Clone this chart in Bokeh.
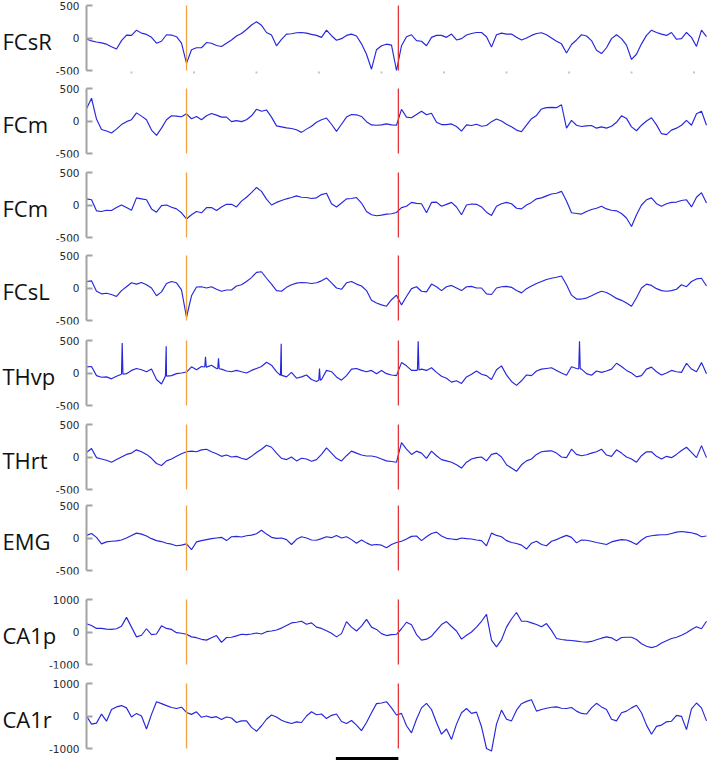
import numpy as np
from bokeh.plotting import figure
from bokeh.layouts import column
from bokeh.models import Range1d, FixedTicker
from bokeh.core.properties import value
from bokeh.embed import file_html
from bokeh.resources import INLINE

# ---------------- data ----------------
t_start = 0.28          # s, first sample
dt = 0.08
t_end = 10.232          # s, last visible time

channels = ["FCsR", "FCm", "FCm", "FCsL", "THvp", "THrt", "EMG", "CA1p", "CA1r"]
limits = [500, 500, 500, 500, 500, 500, 500, 1000, 1000]

fcsr = [-15, -45, -62, -75, -95, -135, -170, -40, 45, 40,
        120, 75, 55, 10, -80, -50, 50, 45, 20, -80,
        -390, -180, -150, -150, -70, -80, -115, -130, -80, -30,
        30, 70, 130, 200, 250, 195, 85, 45, -120, -20,
        60, 65, 80, 85, 75, 55, 40, 10, 120, 35,
        -35, -10, 40, 60, 30, -90, -250, -480, -180, -120,
        -95, -110, -500, -120, 20, 50, -40, -50, -120, 10,
        40, 40, 10, 60, -30, -10, 45, 70, 85, 85,
        20, -140, 50, 75, 60, 60, 10, -30, 0, 40,
        70, 80, 50, 0, -50, -90, -230, -100, -30, 50,
        30, -40, -190, -240, -150, -10, 50, -10, -110, -330,
        -250, -90, 40, 120, 85, 60, 40, 85, -20, -10,
        85, 10, -130, 120, 20]

fcm_a = [190, 350, 30, -130, -155, -185, -125, -55, -10, 20,
         125, 75, 20, -140, -220, -110, 20, 80, 75, 65,
         110, 35, 70, 20, 80, 115, 90, 60, 60, -10,
         5, -10, 20, 80, 180, 150, 170, 60, -75, -90,
         -105, -115, -135, -175, -125, -80, -20, 20, 45, -50,
         -160, -50, 60, 100, 95, 70, -10, -60, -65, -60,
         -45, -60, -65, 180, 60, 50, 100, 150, 95, 120,
         -20, -55, -55, -45, -85, -155, -60, -70, -50, -80,
         -70, -10, 30, 0, -50, -90, -140, -165, -65, 35,
         85, 185, 205, 210, 205, 250, -110, 10, -65, -85,
         -75, -70, -110, -90, -110, -80, -20, 80, 40, -90,
         -150, -65, 0, 50, -60, -195, -210, -140, -110, -65,
         10, -65, 110, 150, -65]

fcm_b = [95, 80, -90, -100, -80, -85, -40, 0, -40, -80,
         110, 95, 80, -60, -110, -10, 0, -35, -60, -120,
         -215, -150, -100, -120, -40, -40, -85, -30, 10, 10,
         -30, 60, 120, 190, 270, 210, 90, 0, 40, 70,
         95, 115, 140, 120, 115, 100, 110, 160, 180, 20,
         -30, 30, 95, 100, 115, 30, -100, -150, -165, -155,
         -140, -135, -115, -40, -20, 40, 25, 20, -120, 40,
         45, -20, 10, 40, -30, -150, 0, 15, 10, -30,
         -110, -160, -20, 20, 40, 20, -50, -60, 0, 40,
         95, 110, 140, 170, 180, 210, 60, -120, -130, -140,
         -100, -70, -50, -20, -60, -80, -90, -130, -200, -330,
         -150, 0, 80, 110, 20, -20, 20, 40, 45, 70,
         80, -30, 120, 190, 30]

fcsl = [100, 110, -50, -90, -80, -100, -130, -40, 20, 80,
        60, 85, 50, 0, -120, -60, 70, 100, 80, -30,
        -450, -120, 15, 20, 0, 20, -20, -50, -30, -30,
        30, 50, 100, 160, 240, 250, 150, 60, -40, -50,
        10, 50, 75, 85, 80, 70, 80, 110, 155, 80,
        0, -20, 80, 100, 60, 30, -40, -190, -230, -260,
        -280, -180, -110, -260, -130, -10, 20, -50, -60, 60,
        20, -40, 20, 40, 0, -40, 20, 25, 0, 0,
        -90, -100, 0, 20, 25, 10, -40, -75, -10, 30,
        70, 100, 130, 150, 165, 185, 50, -110, -170, -170,
        -155, -120, -80, -50, -70, -110, -160, -190, -230, -280,
        -150, 0, 60, 40, -10, -40, -50, -40, -20, 50,
        20, 100, 140, 150, 30]

thvp = [95, 100, -40, -65, -60, -90, -50, -20, -10, 40,
        70, 50, 20, 60, -100, -170, -40, -40, -10, 0,
        15, 95, 50, 100, 90, 120, 70, 60, 30, 20,
        40, 20, 0, 40, 70, 100, 165, 120, 20, -40,
        -60, 10, -80, -60, -30, -100, -130, -100, 40, 20,
        -60, -110, -40, 60, 70, 40, 20, 40, -10, 40,
        -10, -30, -40, 160, 110, 40, 40, 60, 40, 80,
        10, -50, -80, -140, -120, -160, -60, -20, 30, -20,
        -40, -100, 50, 110, -30, -130, -190, -120, -30, -40,
        30, 60, 70, 80, 40, 0, -35, 95, 70, 60,
        -10, -35, 30, 10, 30, 60, 150, 100, 40, 0,
        -60, -40, 60, 90, 20, -30, 0, 40, 20, 10,
        150, 60, 20, 160, -10]
thvp_spike_t = [0.851, 1.555, 2.184, 2.392, 3.395, 4.008, 5.587, 8.168]
thvp_spike_v = [460, 410, 250, 225, 450, 70, 490, 490]

thrt = [70, 130, -10, -30, -50, -80, -40, 0, 40, 60,
        110, 80, 40, -20, -100, -130, -60, -30, 10, 50,
        80, 90, 80, 110, 120, 80, 50, 10, 30, 0,
        10, -20, -40, 10, 70, 120, 180, 150, 60, -20,
        -40, 0, -60, -20, -30, -65, -40, 40, 140, 60,
        -20, -60, 20, 90, 60, 30, 15, 15, 0, -30,
        -60, -70, -80, 220, 120, 40, 90, 60, -20, 90,
        20, -40, -60, -80, -120, -170, -80, -30, -10, 0,
        -60, 40, 60, 0, -120, -170, -220, -120, -60, -30,
        40, 80, 90, 95, 60, 0, -10, 120, 40, 20,
        35, 60, 80, 120, 30, 10, 110, 60, 0, -30,
        -80, 20, 80, 80, 10, -30, 10, -10, 40, 100,
        150, 70, -10, 175, -10]

emg = [40, 70, 10, -90, -60, -50, -45, -30, 0, 40,
       75, 60, 30, -10, -40, -55, -80, -95, -120, -110,
       -90, -180, -60, -40, -25, -10, 0, 10, -40, 20,
       25, 15, 35, 45, 65, 120, 60, 10, -5, 0,
       -25, -100, -20, 20, 0, -30, -35, -10, 20, 5,
       40, 0, 20, -25, -80, -30, -75, -110, -100, -110,
       -150, -100, -70, -50, -15, 25, 30, -40, 20, 70,
       90, 30, -5, -15, -25, 0, -10, -15, -30, -40,
       -120, 75, 40, 20, -40, -70, -85, -110, -170, -80,
       -50, -100, -120, -50, -25, 10, 40, 10, -75, -30,
       -35, -50, -70, -85, -100, -60, -40, -25, -30, -60,
       -100, -30, 20, 35, 45, 50, 50, 70, 90, 100,
       90, 80, 60, 20, 30]

ca1p = [255, 200, 110, 110, 90, 80, 100, 180, 450, 150,
        -150, -100, 100, -80, -60, 190, 110, 80, -20, -40,
        -70, -150, -175, -225, -250, -180, -110, -320, -170, -160,
        -120, -70, -80, -60, -30, -60, 10, 30, 60, 120,
        200, 280, 300, 330, 240, 280, 150, 110, 40, -40,
        -150, -50, 320, 150, 30, 180, 390, 150, 80, -50,
        -110, -80, -70, 100, 300, 220, -80, -250, -220, -130,
        50, 230, 320, 170, 30, -220, -100, 0, 150, 330,
        540, -250, -460, -240, 150, 400, 600, 330, 330, 280,
        230, 160, 260, 50, -200, -230, -250, -260, -280, -300,
        -310, -290, -240, -190, -150, -180, -270, -170, -160, -160,
        -230, -360, -440, -480, -440, -340, -270, -200, -160, -100,
        -20, 80, 160, 100, 330]

ca1r = [0, -250, -220, 60, -160, 200, 280, 320, 250, -30,
        80, 0, -400, 50, 440, 380, 320, 260, 230, 270,
        110, 50, 130, -40, 0, -50, -20, -110, -30, -60,
        -200, -150, -150, -350, -470, -300, -100, 30, -30, -130,
        -190, -230, -180, -200, 0, 130, 40, 60, -80, 20,
        60, -170, -230, -140, -280, -450, -200, 100, 380, 400,
        440, 250, 30, 80, -300, -520, -100, 250, 390, 200,
        -200, -560, -400, -720, -250, 100, 230, 80, 120, -330,
        -1000, -1080, -250, 180, -100, -150, 180, 380, 450, 500,
        150, 200, 240, 270, 280, 240, 230, 260, 150, 80,
        60, 250, 390, 280, 200, -100, -150, 100, 150, 250,
        330, 100, -280, -560, -320, -280, -180, -160, 20, -10,
        -420, 220, 400, 250, -150]

series = [fcsr, fcm_a, fcm_b, fcsl, thvp, thrt, emg, ca1p, ca1r]

event_t = [1.88, 5.27]                 # stimulus / event markers (s)
event_colors = ["#f0a440", "#e2383c"]
scale_bar_t = [4.27, 5.27]             # 1 s scale bar
second_ticks = [1, 2, 3, 4, 5, 6, 7, 8, 9, 10]

# ---------------- layout ----------------
W = 708
PX_PER_S = 62.5
AXIS_X = 86                       # px from the left edge to the y axes
heights = [84, 84, 83, 85, 84, 81, 94, 84, 82]
tops = [1, 0, 0, 0, 0, 0, 0, 0, 0]
CORE = 65      # px between the +limit and -limit ticks
PAD = 4        # px of room beyond the ticks
LABEL_DROP = 3 # px the channel names sit below the zero line
TRACE = "#2626dc"
AXIS = "#a3a3a3"

x_left = t_start - AXIS_X / PX_PER_S
x_range = Range1d(x_left, t_end)
times = t_start + dt * np.arange(len(fcsr))

figs = []
n = len(channels)
for i in range(n):
    lim = limits[i]
    upp = 2 * lim / CORE
    last = i == n - 1
    extra = 13 if last else PAD
    y_top = lim + PAD * upp
    y_bot = -lim - extra * upp
    frame_h = PAD + CORE + extra
    b_top = tops[i]
    b_bot = heights[i] - b_top - frame_h

    p = figure(width=W, height=heights[i], x_range=x_range,
               y_range=Range1d(y_bot, y_top), title=None,
               output_backend="svg", toolbar_location=None,
               x_axis_location=None, y_axis_location="left",
               min_border_left=0, min_border_right=0,
               min_border_top=b_top, min_border_bottom=max(b_bot, 0))
    p.grid.visible = False
    p.outline_line_color = None
    p.background_fill_color = "white"
    p.border_fill_color = "white"

    ax = p.yaxis[0]
    ax.fixed_location = t_start
    ax.bounds = (-lim, lim)
    ax.ticker = FixedTicker(ticks=[-lim, 0, lim])
    ax.major_label_overrides = {-lim: "-%d" % lim, 0: "0", lim: "%d" % lim}
    ax.axis_line_color = AXIS
    ax.axis_line_width = 2
    ax.major_tick_line_color = AXIS
    ax.major_tick_line_width = 2
    ax.major_tick_in = 6
    ax.major_tick_out = 0
    ax.minor_tick_line_color = None
    ax.major_label_standoff = 7
    ax.major_label_text_font = "DejaVu Sans"
    ax.major_label_text_font_size = "10.5px"
    ax.major_label_text_color = "#2a2a2a"

    vals = np.array(series[i], dtype=float)
    tt = times
    if channels[i] == "THvp":
        base = np.interp(thvp_spike_t, times, vals)
        extra_t = []
        extra_v = []
        for st, sv, b in zip(thvp_spike_t, thvp_spike_v, base):
            extra_t += [st - 0.012, st, st + 0.012]
            extra_v += [b, sv, b]
        tt = np.concatenate([times, extra_t])
        vv = np.concatenate([vals, extra_v])
        order = np.argsort(tt, kind="stable")
        tt, vals = tt[order], vv[order]

    p.line(tt, vals, line_color=TRACE, line_width=1.15)

    p.segment(x0=event_t, y0=[-lim] * 2, x1=event_t, y1=[lim] * 2,
              line_color=event_colors, line_width=1.3)

    if i == 0:
        p.scatter(second_ticks, [-lim - 2 * upp] * len(second_ticks),
                  size=2, marker="square", color="#c8c8c8", line_color=None)

    if last:
        p.segment(x0=[scale_bar_t[0]], y0=[-lim - 10 * upp],
                  x1=[scale_bar_t[1]], y1=[-lim - 10 * upp],
                  line_color="black", line_width=3)

    p.text(x=[x_left + 2 / PX_PER_S], y=[-LABEL_DROP * upp], text=[channels[i]],
           text_font=value("Open Sans"), text_font_size="22px",
           text_baseline="middle", text_align="left", text_color="#111111")
    figs.append(p)

layout = column(*figs, spacing=0)
open("out.html", "w").write(file_html(layout, INLINE))
